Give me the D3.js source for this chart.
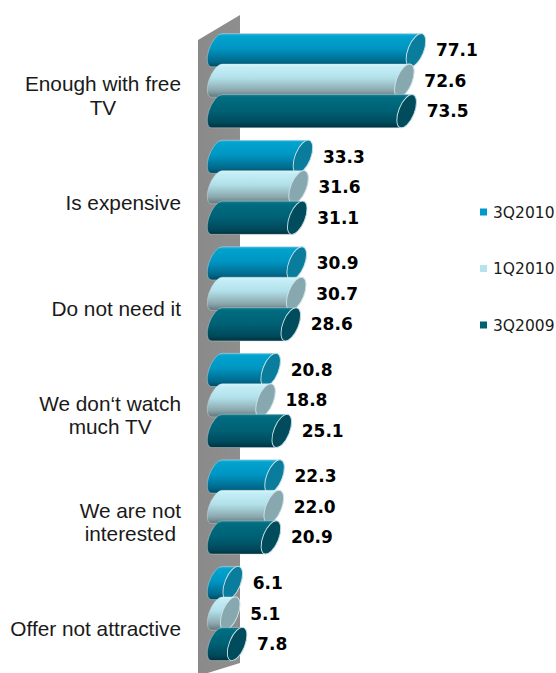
<!DOCTYPE html>
<html>
<head>
<meta charset="utf-8">
<script src="https://cdn.jsdelivr.net/npm/d3@7"></script>
<style>
  html, body { margin: 0; padding: 0; background: #fff; }
  svg { display: block; }
</style>
</head>
<body>
<svg id="chart" width="556" height="673"></svg>
<script>
// Reasons for not subscribing to pay TV, share of respondents (%)
const categories = [
  "Enough with free\nTV",
  "Is expensive",
  "Do not need it",
  "We don\u2018t watch\nmuch TV",
  "We are not\ninterested",
  "Offer not attractive"
];
const series = ["3Q2010", "1Q2010", "3Q2009"];
const values3Q2010 = [77.1, 33.3, 30.9, 20.8, 22.3, 6.1];
const values1Q2010 = [72.6, 31.6, 30.7, 18.8, 22.0, 5.1];
const values3Q2009 = [73.5, 31.1, 28.6, 25.1, 20.9, 7.8];

const valuesBySeries = {
  "3Q2010": values3Q2010,
  "1Q2010": values1Q2010,
  "3Q2009": values3Q2009
};

// Cylinder shading per series: body gradient stops, end-cap colour, legend swatch
const palette = {
  "3Q2010": {
    stops: [[0, "#3fb6dc"], [0.07, "#00a3cf"], [0.45, "#0095c2"], [0.85, "#00688a"], [1, "#004a62"]],
    cap: "#0a7d9d", swatch: "#0099cc"
  },
  "1Q2010": {
    stops: [[0, "#dcf6fb"], [0.08, "#c3eef7"], [0.42, "#b2e0e9"], [0.8, "#8ba7ad"], [1, "#617579"]],
    cap: "#86a8ae", swatch: "#b5e3ec"
  },
  "3Q2009": {
    stops: [[0, "#1a8094"], [0.08, "#006d81"], [0.5, "#006074"], [0.85, "#00495b"], [1, "#00323f"]],
    cap: "#004c5d", swatch: "#00606f"
  }
};

const W = 556, H = 673;
const svg = d3.select("#chart");

const x = d3.scaleLinear().domain([0, 100]).range([217, 475]);
const y = d3.scaleBand().domain(categories).range([27.4, 666.8]).padding(0);
const ys = d3.scaleBand().domain(series).range([-45.75, 45.75]).padding(0);

// gradients
const defs = svg.append("defs");
series.forEach((s, i) => {
  const g = defs.append("linearGradient")
    .attr("id", "body" + i)
    .attr("x1", 0).attr("y1", 0).attr("x2", 0).attr("y2", 1);
  palette[s].stops.forEach(([o, c]) => g.append("stop").attr("offset", o).attr("stop-color", c));
});
const wallGrad = defs.append("linearGradient").attr("id", "wall")
  .attr("x1", 0).attr("y1", 0).attr("x2", 1).attr("y2", 0);
wallGrad.append("stop").attr("offset", 0).attr("stop-color", "#8a8a8a");
wallGrad.append("stop").attr("offset", 1).attr("stop-color", "#8e8e8e");

// back wall of the 3D plot area
const x0 = x(0);
const [r0, r1] = y.range();
const wallL = x0 - 19, wallR = x0 + 23;
svg.append("polygon")
  .attr("points", [
    [wallL, r0 + 12.6], [wallR, r0 - 12.4], [wallR, r1 - 3.8], [wallL, r1 + 9.2]
  ].map(p => p.join(",")).join(" "))
  .attr("fill", "url(#wall)");

// cylinder geometry: tilted elliptical ends
const half = 16.6;
const theta = 22 * Math.PI / 180;
const ea = 7.8;
const eb = Math.sqrt((half * half - ea * ea * Math.sin(theta) ** 2) / Math.cos(theta) ** 2);
const tOff = (eb * eb - ea * ea) * Math.sin(theta) * Math.cos(theta) / half;
const deg = theta * 180 / Math.PI;

const rows = [];
categories.forEach((c, ci) => {
  series.forEach((s, si) => {
    const v = valuesBySeries[s][ci];
    const cy = y(c) + y.bandwidth() / 2 + ys(s) + ys.bandwidth() / 2;
    rows.push({ c, s, si, v, cy });
  });
});

const bars = svg.append("g");
rows.forEach(d => {
  const xe = x(d.v);
  const top = d.cy - half, bot = d.cy + half;
  const body = [
    `M${x0 + tOff},${top}`,
    `L${xe + tOff},${top}`,
    `A${ea},${eb} ${deg} 0 1 ${xe - tOff},${bot}`,
    `L${x0 - tOff},${bot}`,
    `A${ea},${eb} ${deg} 0 1 ${x0 + tOff},${top}`,
    "Z"
  ].join(" ");
  bars.append("path")
    .attr("d", body)
    .attr("fill", `url(#body${d.si})`)
    .attr("stroke", "rgba(200,220,228,0.55)")
    .attr("stroke-width", 0.8);
  bars.append("ellipse")
    .attr("cx", xe).attr("cy", d.cy)
    .attr("rx", ea).attr("ry", eb)
    .attr("transform", `rotate(${deg},${xe},${d.cy})`)
    .attr("fill", palette[d.s].cap)
    .attr("stroke", "#cfe3e9")
    .attr("stroke-width", 0.9);
});

// value labels
const fmt = d3.format(".1f");
svg.append("g")
  .selectAll("text")
  .data(rows)
  .join("text")
  .attr("x", d => x(d.v) + 20)
  .attr("y", d => d.cy + 6)
  .attr("font-family", "'DejaVu Sans', Verdana, sans-serif")
  .attr("font-weight", "bold")
  .attr("font-size", 17)
  .attr("fill", "#000")
  .text(d => fmt(d.v));

// category labels: block right-aligned, lines centred within the block
const catG = svg.append("g")
  .attr("font-family", "'Liberation Sans', Arial, sans-serif")
  .attr("font-size", 20.8)
  .attr("fill", "#1a1a1a");
const lineH = 23.5, blockRight = 181;
categories.forEach(c => {
  const lines = c.split("\n");
  const mid = y(c) + y.bandwidth() / 2 + 15.3;
  const texts = lines.map((ln, li) => catG.append("text")
    .attr("y", mid + (li - (lines.length - 1) / 2) * lineH + 7)
    .attr("text-anchor", "middle")
    .text(ln));
  const maxW = d3.max(texts, t => t.node().getComputedTextLength());
  texts.forEach(t => t.attr("x", blockRight - maxW / 2));
});

// legend
const legend = svg.append("g");
series.forEach((s, i) => {
  const cy = 212 + i * 56.5;
  legend.append("rect")
    .attr("x", 480).attr("y", cy - 3.5)
    .attr("width", 7).attr("height", 7)
    .attr("fill", palette[s].swatch);
  legend.append("text")
    .attr("x", 493).attr("y", cy + 5.6)
    .attr("font-family", "'DejaVu Sans', Verdana, sans-serif")
    .attr("font-size", 15.5)
    .attr("fill", "#1a1a1a")
    .text(s);
});
</script>
</body>
</html>
